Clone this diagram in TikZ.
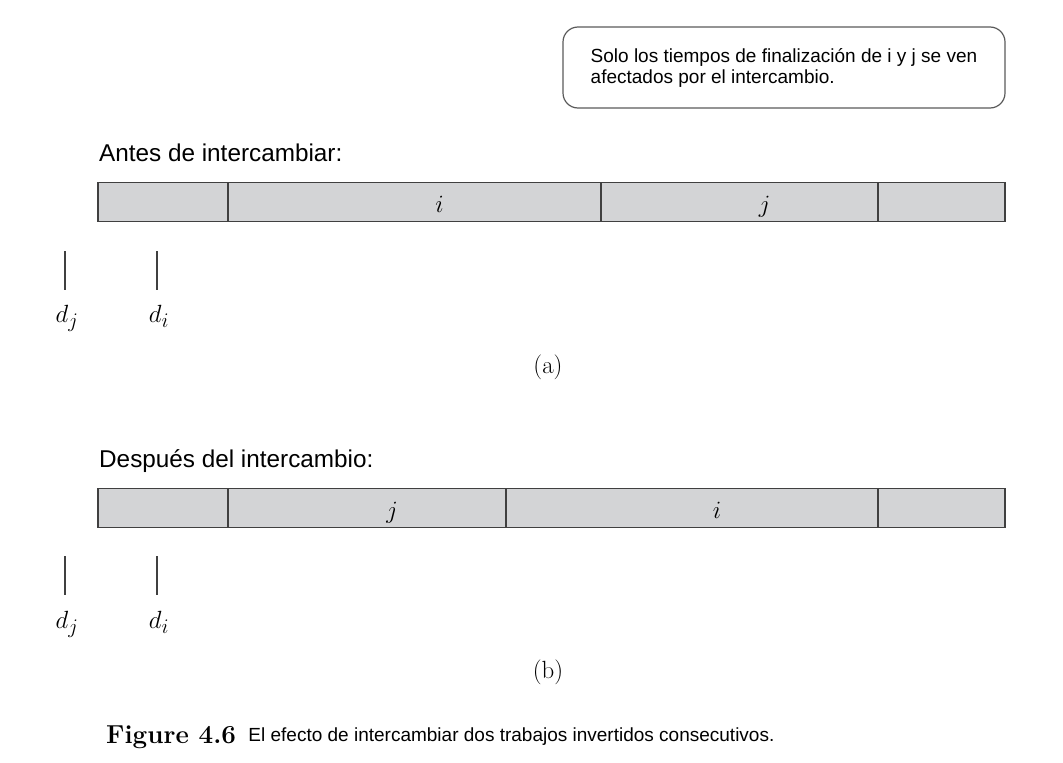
\documentclass[tikz,border=0pt]{standalone}
\usepackage{fontspec}
\setsansfont{Liberation Sans}
\usetikzlibrary{positioning}
\definecolor{barra}{HTML}{D3D4D6}
\definecolor{borde}{HTML}{404040}
\definecolor{marco}{HTML}{5A5A5A}
\newcommand{\tam}[2]{\fontsize{#1}{#2}\selectfont}

\begin{document}
\begin{tikzpicture}[x=1pt, y=-1pt,
      seg/.style={draw=borde, fill=barra, line width=1.4pt, minimum height=39pt,
                  inner sep=0pt, outer sep=0pt},
      marca/.style={draw=borde, line width=1.3pt},
      mat/.style={font=\tam{24.88}{30}, inner sep=0pt, anchor=base},
      rotulo/.style={anchor=base west, inner sep=0pt, font=\sffamily\tam{24.3}{28}}]
    \useasboundingbox (0,0) rectangle (1063,763);
    % nota
    \node[draw=marco, rounded corners=15pt, line width=1.2pt, minimum width=442pt,
          minimum height=81pt, align=left, font=\sffamily\tam{19}{21}] (nota) at (784,67.5)
          {Solo los tiempos de finalización de i y j se ven\\afectados por el intercambio.};
    % (a) antes
    \node[rotulo] (antes) at (99,161) {Antes de intercambiar:};
    \node[seg, minimum width=130pt] (a0) at (163,202) {};
    \node[seg, minimum width=373pt, right=0pt of a0] (a1) {};
    \node[seg, minimum width=277pt, right=0pt of a1] (a2) {};
    \node[seg, minimum width=127pt, right=0pt of a2] (a3) {};
    \node[mat] (ai) at ([xshift=25pt, yshift=-10pt]a1.center) {$i$};
    \node[mat] (aj) at ([xshift=25pt, yshift=-10pt]a2.center) {$j$};
    \coordinate (tja) at (65,251); \coordinate (tia) at (157,251);
    \draw[marca] (tja) -- ++(0,39); \draw[marca] (tia) -- ++(0,39);
    \node[mat] (dja) at (67,322) {$d_j$};
    \node[mat] (dia) at (159,322) {$d_i$};
    \node[font=\tam{24.88}{30}, inner sep=0pt] (capa) at (548,367) {(a)};
    % (b) despues
    \node[rotulo] (despues) at (99,467) {Después del intercambio:};
    \node[seg, minimum width=130pt] (b0) at (163,508) {};
    \node[seg, minimum width=278pt, right=0pt of b0] (b1) {};
    \node[seg, minimum width=372pt, right=0pt of b1] (b2) {};
    \node[seg, minimum width=127pt, right=0pt of b2] (b3) {};
    \node[mat] (bj) at ([xshift=25pt, yshift=-10pt]b1.center) {$j$};
    \node[mat] (bi) at ([xshift=25pt, yshift=-10pt]b2.center) {$i$};
    \coordinate (tjb) at (65,556); \coordinate (tib) at (157,556);
    \draw[marca] (tjb) -- ++(0,39); \draw[marca] (tib) -- ++(0,39);
    \node[mat] (djb) at (67,628) {$d_j$};
    \node[mat] (dib) at (159,628) {$d_i$};
    \node[font=\tam{24.88}{30}, inner sep=0pt] (capb) at (548,672) {(b)};
    % pie
    \node[anchor=base west, inner sep=0pt, font=\bfseries\tam{26}{30}] (fig) at (106,743) {Figure 4.6};
    \node[anchor=base west, inner sep=0pt, font=\sffamily\tam{19}{21}] (pie)
          at ([xshift=12pt, yshift=2pt]fig.base east) {El efecto de intercambiar dos trabajos invertidos consecutivos.};
\end{tikzpicture}
\end{document}
